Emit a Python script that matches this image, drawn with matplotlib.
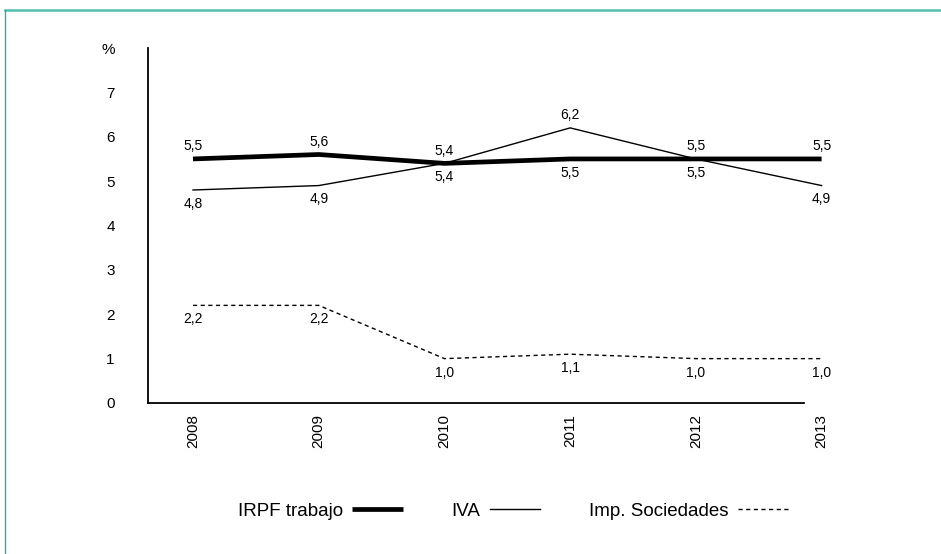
import matplotlib
matplotlib.use("Agg")
import matplotlib.pyplot as plt
from matplotlib.lines import Line2D

plt.rcParams['font.family'] = ['Liberation Sans', 'DejaVu Sans']

years = ['2008', '2009', '2010', '2011', '2012', '2013']
irpf = [5.5, 5.6, 5.4, 5.5, 5.5, 5.5]
iva = [4.8, 4.9, 5.4, 6.2, 5.5, 4.9]
sociedades = [2.2, 2.2, 1.0, 1.1, 1.0, 1.0]

# where each value label goes: +1 above the point, -1 below
irpf_side = [1, 1, 1, -1, -1, 1]
iva_side = [-1, -1, -1, 1, 1, -1]
soc_side = [-1, -1, -1, -1, -1, -1]

x0, x1 = -0.358, 5.2
unit = (804 - 148) / (4.86 - x0)
fig = plt.figure(figsize=(9.41, 5.54), dpi=100)
ax = fig.add_axes([148 / 941, 1 - 403 / 554, (x1 - x0) * unit / 941, (403 - 48) / 554])

x = list(range(len(years)))
l1, = ax.plot(x, irpf, color='black', lw=3.4, clip_on=False, solid_capstyle='butt')
l2, = ax.plot(x, iva, color='black', lw=1.0, clip_on=False)
l3, = ax.plot(x, sociedades, color='black', lw=1.0, dashes=(3, 2.5), clip_on=False)


def fmt(v):
    return ('%.1f' % v).replace('.', ',')


for vals, sides in [(irpf, irpf_side), (iva, iva_side), (sociedades, soc_side)]:
    for i, (v, s) in enumerate(zip(vals, sides)):
        ax.annotate(fmt(v), (i, v), xytext=(0, 9 * s if s > 0 else -10),
                    textcoords='offset points', ha='center', va='center',
                    fontsize=10, annotation_clip=False)

ax.set_xticks(x)
ax.set_xticklabels(years, rotation=90, fontsize=11)
ax.set_yticks(range(9))
ax.set_yticklabels([str(i) for i in range(8)] + ['%'], fontsize=11)
ax.set_xlim(x0, x1)
ax.set_ylim(0, 8)
# the x axis line stops short of the last year
ax.spines['bottom'].set_bounds(x0, 4.86)
ax.tick_params(axis='y', length=0, pad=24)
ax.tick_params(axis='x', length=0, pad=8)
for s in ['top', 'right']:
    ax.spines[s].set_visible(False)
ax.spines['left'].set_linewidth(1.3)
ax.spines['bottom'].set_linewidth(1.3)

fig.legend([l1, l2, l3], ['IRPF trabajo', 'IVA', 'Imp. Sociedades'],
           loc='center', bbox_to_anchor=(513 / 941, 1 - 511 / 554),
           ncol=3, frameon=False, markerfirst=False, fontsize=13.5,
           handlelength=2.7, columnspacing=2.6, handletextpad=0.5)

# teal border along the top and left edges
fig.add_artist(Line2D([5 / 941, 1], [1 - 10 / 554, 1 - 10 / 554],
                      transform=fig.transFigure, color='#52bfae', lw=1.8))
fig.add_artist(Line2D([5 / 941, 5 / 941], [0, 1 - 10 / 554],
                      transform=fig.transFigure, color='#1fb39e', lw=1.0))

fig.savefig('out.png', dpi=100)
